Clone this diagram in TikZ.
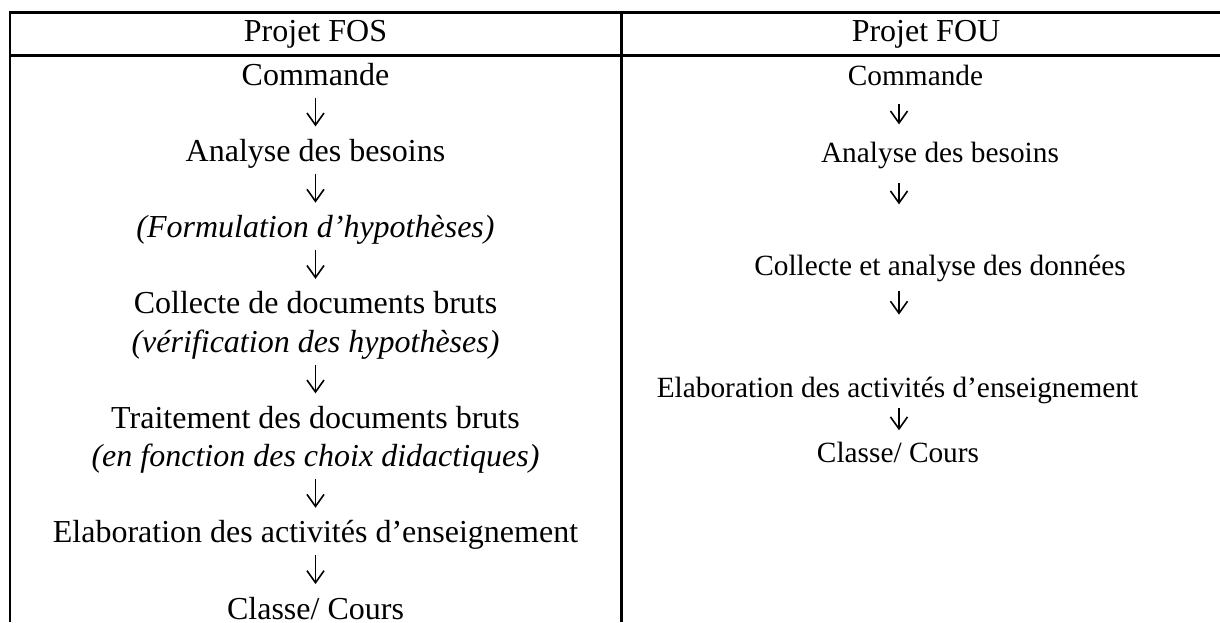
\documentclass[tikz,border=0pt]{standalone}
\usepackage{fontspec}
\setmainfont{Liberation Serif}
\usetikzlibrary{arrows.meta}

\tikzset{
  cellL/.style={font=\fontsize{12}{14}\selectfont, anchor=base, inner sep=0pt, text height=8.4pt, text depth=3pt},
  cellR/.style={font=\fontsize{11}{13}\selectfont, anchor=base, inner sep=0pt, text height=7.7pt, text depth=2.75pt},
  flow/.style={-{Straight Barb[length=4.5pt,width=6.4pt]}, line width=0.6pt},
  rule/.style={line width=1pt}
}

\begin{document}
\begin{tikzpicture}[x=0.375pt, y=-0.375pt]
  \useasboundingbox (0,0) rectangle (1220,622);

  % Table rules
  \draw[rule] (1220,12.5) -- (10,12.5) -- (10,622);
  \draw[rule] (10,55.5) -- (1220,55.5);
  \draw[rule] (621.5,12.5) -- (621.5,622);

  % Header
  \node[cellL] (fos) at (315.5,41) {Projet FOS};
  \node[cellL] (fou) at (926,41) {Projet FOU};

  % Projet FOS
  \node[cellL] (cmdL) at (315.5,85) {Commande};
  \node[cellL] (besL) at (315.5,161.3) {Analyse des besoins};
  \node[cellL] (hypL) at (315.5,237.6) {\itshape (Formulation d’hypothèses)};
  \node[cellL] (colL) at (315.5,313.8) {Collecte de documents bruts};
  \node[cellL] (verL) at (315.5,352) {\itshape (vérification des hypothèses)};
  \node[cellL] (traL) at (315.5,428.3) {Traitement des documents bruts};
  \node[cellL] (fonL) at (315.5,466.4) {\itshape (en fonction des choix didactiques)};
  \node[cellL] (elaL) at (315.5,542.7) {Elaboration des activités d’enseignement};
  \node[cellL] (claL) at (315.5,619) {Classe/ Cours};

  \foreach \a/\b in {cmdL/besL, besL/hypL, hypL/colL, verL/traL, fonL/elaL, elaL/claL}
    \draw[flow, shorten <=1.5pt, shorten >=4.5pt] (\a) -- (\b);

  % Projet FOU
  \coordinate (axisR) at (899,0);
  \node[cellR] (cmdR) at (915.5,85) {Commande};
  \node[cellR] (besR) at (940,162) {Analyse des besoins};
  \node[cellR] (colR) at (940,275) {Collecte et analyse des données};
  \node[cellR] (elaR) at (897.5,397) {Elaboration des activités d’enseignement};
  \node[cellR] (claR) at (898,462) {Classe/ Cours};

  \draw[flow, shorten <=4pt, shorten >=6.2pt] (cmdR.south -| axisR) -- (besR.north -| axisR);
  \draw[flow, shorten <=5.1pt, shorten >=18.6pt] (besR.south -| axisR) -- (colR.north -| axisR);
  \draw[flow, shorten <=2.9pt, shorten >=23pt] (colR.south -| axisR) -- (elaR.north -| axisR);
  \draw[flow, shorten <=1pt, shorten >=4pt] (elaR.south -| axisR) -- (claR.north -| axisR);
\end{tikzpicture}
\end{document}
